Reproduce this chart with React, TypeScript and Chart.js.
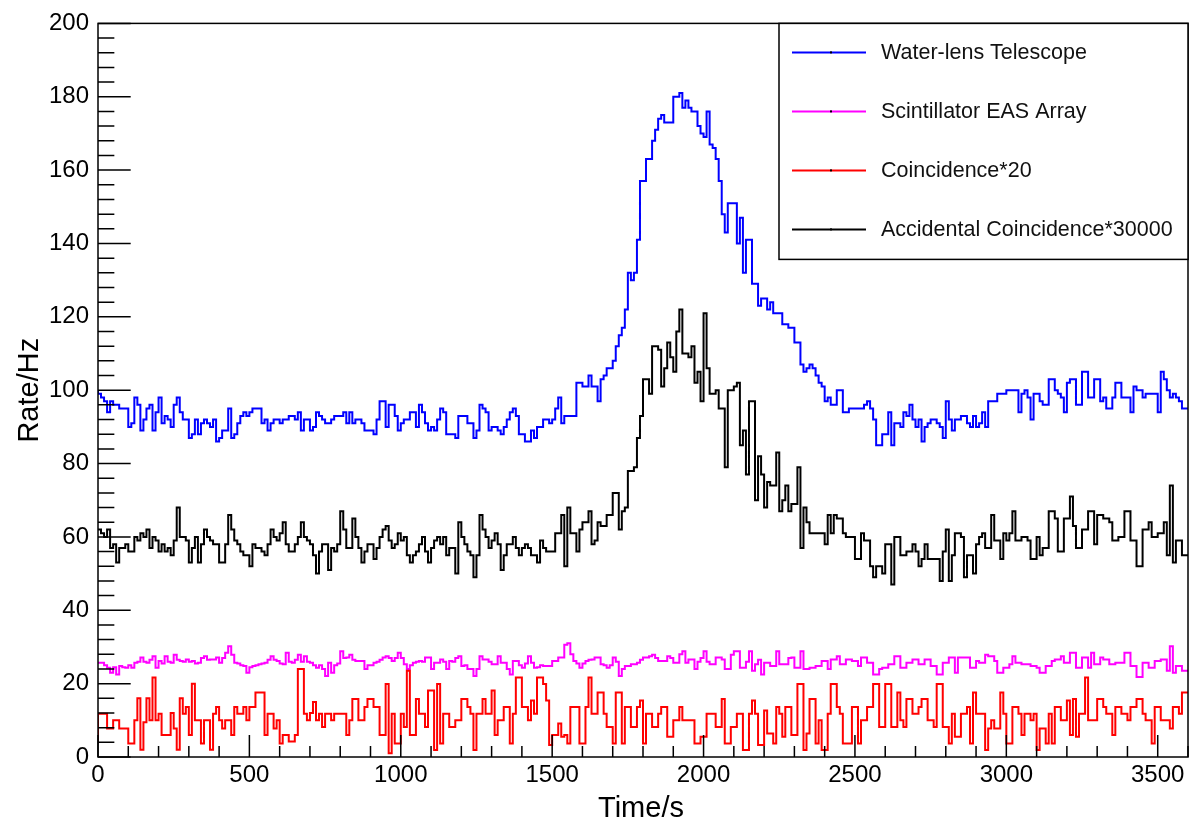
import React, { useEffect, useRef } from 'react';
import { Chart, registerables } from 'chart.js';

Chart.register(...registerables);

// ---- axis definition ----
const BIN_WIDTH = 10; // seconds per histogram bin
const X_MIN = 0;
const X_MAX = 3600;
const X_MAJOR = 500;
const X_MINOR = 100;
const Y_MIN = 0;
const Y_MAX = 200;
const Y_MAJOR = 20;
const Y_MINOR = 4;

const X_TICK_LABELS = [0, 500, 1000, 1500, 2000, 2500, 3000, 3500];
const Y_TICK_LABELS = [0, 20, 40, 60, 80, 100, 120, 140, 160, 180, 200];

const X_TITLE = 'Time/s';
const Y_TITLE = 'Rate/Hz';

// ---- series (one value per 10 s bin, 360 bins) ----
const waterLens = [
  100, 99, 98, 97, 94, 97, 96, 96, 95, 95,
  95, 90, 91, 98, 96, 89, 92, 95, 96, 89,
  94, 98, 91, 93, 92, 90, 96, 98, 94, 92,
  92, 87, 88, 92, 88, 91, 92, 91, 90, 92,
  86, 87, 89, 89, 95, 87, 88, 91, 93, 94,
  93, 94, 95, 95, 95, 91, 92, 89, 91, 92,
  92, 91, 92, 92, 93, 93, 92, 94, 89, 92,
  92, 89, 90, 94, 93, 92, 91, 91, 92, 93,
  93, 93, 94, 91, 94, 91, 92, 92, 91, 89,
  89, 89, 88, 92, 97, 97, 90, 96, 96, 93,
  89, 91, 92, 92, 94, 94, 90, 96, 94, 91,
  89, 90, 89, 92, 95, 94, 88, 88, 88, 87,
  93, 93, 93, 91, 91, 87, 89, 96, 95, 94,
  89, 90, 90, 89, 88, 90, 92, 94, 95, 93,
  88, 88, 86, 86, 89, 87, 90, 90, 92, 92,
  91, 92, 95, 98, 91, 93, 93, 93, 93, 102,
  102, 101, 101, 104, 101, 101, 97, 103, 104, 106,
  106, 108, 112, 115, 117, 122, 132, 130, 132, 141,
  157, 157, 163, 163, 168, 171, 174, 175, 173, 173,
  173, 180, 180, 181, 177, 179, 177, 176, 176, 172,
  170, 169, 176, 167, 166, 163, 157, 148, 143, 151,
  151, 151, 140, 147, 132, 141, 141, 129, 129, 123,
  125, 125, 122, 124, 121, 121, 121, 118, 118, 117,
  117, 113, 113, 107, 105, 106, 107, 106, 104, 102,
  101, 97, 98, 96, 96, 100, 100, 94, 94, 95,
  95, 95, 95, 95, 96, 97, 95, 92, 85, 85,
  88, 88, 94, 85, 91, 91, 90, 94, 93, 96,
  92, 90, 92, 86, 90, 91, 92, 92, 91, 90,
  87, 97, 92, 89, 92, 92, 93, 93, 91, 90,
  93, 90, 91, 94, 90, 97, 97, 97, 99, 99,
  99, 100, 100, 100, 100, 94, 99, 100, 98, 92,
  99, 99, 97, 96, 96, 103, 103, 100, 99, 98,
  94, 102, 103, 103, 96, 96, 105, 105, 98, 98,
  103, 103, 97, 98, 95, 95, 98, 102, 102, 98,
  98, 98, 94, 101, 100, 100, 98, 99, 99, 99,
  99, 94, 105, 103, 100, 98, 99, 98, 97, 95,
];

const scintillator = [
  25.7, 25.7, 25.7, 25, 24.3, 23, 24.5, 22.5, 24.8, 24.5,
  24.3, 25, 24.3, 25.7, 26, 27.1, 26, 25.7, 26.5, 27.5,
  24.3, 26.2, 25.5, 27.5, 26, 25.7, 27.9, 26.5, 26.2, 26,
  26.6, 26, 26.2, 25.5, 25.7, 27, 27.5, 26.5, 26.6, 26.6,
  27.1, 25.7, 27, 28.4, 30.2, 27.9, 25.7, 25.5, 25, 24.8,
  23, 24.5, 24.8, 25, 25.3, 25.5, 25.7, 26.5, 27.5, 26.5,
  26.2, 25.5, 25.3, 28.4, 26, 25.7, 26.5, 27.9, 26, 27.5,
  26, 25.7, 25, 24.3, 25, 24, 22.1, 25.7, 23, 25,
  25.5, 28.8, 27, 27.1, 27.9, 26.5, 26.2, 26.2, 26.2, 24,
  25, 25, 25.7, 26, 26.5, 27.1, 27.5, 27, 26.2, 27,
  28.4, 27, 25.3, 24, 25, 25.7, 26, 26.2, 26, 27.1,
  27.1, 24, 25.7, 25.7, 26.6, 26, 24, 26.2, 26, 27,
  27.5, 24.8, 25, 24, 24, 22.1, 24, 27.5, 26.6, 26.6,
  26, 25.3, 25.3, 27.5, 25.7, 25.7, 24, 22.5, 26.2, 26.2,
  25, 24.3, 25.5, 27.5, 25.7, 24.3, 24.5, 25, 24.8, 24.8,
  24.8, 26.2, 26.2, 27.1, 27.1, 30.6, 31, 28, 26.2, 25.5,
  24.3, 25.5, 26.2, 26.5, 26.6, 27.1, 27.1, 25.3, 25, 24.3,
  25, 27.1, 26, 22.1, 24, 24.8, 24.8, 25.3, 25.3, 25.7,
  26.5, 27.1, 27.1, 27.5, 27.9, 27, 26.2, 26.2, 26.2, 27.5,
  27, 25.7, 25.7, 28, 28.8, 25.7, 26.6, 26.6, 24, 26,
  27, 28.8, 26, 25.3, 25.3, 27.1, 27.1, 26.6, 24, 24,
  27.9, 28.8, 28.8, 24.3, 24.3, 26, 28.8, 23.5, 25.3, 26.5,
  22.5, 25.7, 25.7, 24.8, 24.8, 28.8, 25.3, 25.3, 25.3, 27,
  27.1, 24.3, 24.3, 28.8, 24, 24, 24.3, 24.3, 24.8, 24.8,
  26.2, 26.2, 24, 26.6, 26.6, 27.5, 25.3, 25.3, 26.6, 26.6,
  26.2, 26.2, 24.8, 27.1, 27.1, 25.7, 25.7, 22.5, 22.5, 24,
  24.3, 24.3, 25.3, 25.3, 27.5, 27.5, 24.3, 24.3, 25.7, 25.7,
  26.6, 26.6, 25.3, 25.3, 26.6, 26.6, 24.8, 24.8, 22.5, 22.5,
  25.7, 25.7, 27.1, 27.1, 23, 27.1, 27.1, 27.1, 27.1, 24.3,
  24.3, 26.2, 25.7, 25.7, 27.9, 27.5, 27.5, 26.2, 23, 23,
  24.3, 24.3, 25.3, 27.5, 25.7, 25.7, 25.3, 25.3, 25.3, 24.8,
  24.8, 24.3, 23, 23, 24.8, 24.8, 26.2, 26.6, 26.6, 27.5,
  25.7, 25.7, 28.4, 28.4, 24.3, 24.3, 27.1, 27.1, 24.3, 28.4,
  25.3, 25.3, 27.1, 26.6, 26.6, 25.3, 25.3, 25.7, 25.7, 25.7,
  28.4, 28.4, 24.8, 24.8, 21.8, 21.8, 25.7, 25.7, 24.3, 24.3,
  26.2, 26.2, 26.6, 26.6, 23.5, 30.2, 23, 24.8, 24.8, 23.5,
];

const coincidence = [
  3.7, 11.8, 11.8, 11.8, 7.8, 7.8, 10, 10, 7.8, 7.8,
  7.8, 3.7, 3.7, 10, 16, 2, 9.5, 16, 10, 21.7,
  10, 11.8, 6, 6, 6, 12, 7.8, 2, 16, 11.8,
  13.6, 6, 20, 10, 10, 3.7, 10, 10, 2, 11.8,
  13.6, 10, 7.8, 10, 10, 6, 13.6, 11.8, 11.8, 13.6,
  10, 13.6, 13.6, 17.6, 17.6, 17.6, 6, 11.8, 11.8, 7.8,
  10, 3.7, 6, 6, 4.2, 4.2, 6, 24, 24, 11.8,
  10, 12, 15, 10, 11.8, 8.2, 11.8, 11.8, 10, 11.8,
  11.8, 11.8, 11.8, 6, 10, 15.8, 15.8, 10, 10, 13.6,
  15.8, 15.8, 13.6, 13.6, 6, 6, 19.9, 1, 11.8, 3.7,
  3.7, 11.8, 8.2, 23.5, 6, 6, 15.8, 11.8, 11.8, 8.2,
  18.1, 18.1, 1.9, 19.9, 3.7, 11.8, 11.8, 8.2, 8.2, 10,
  10, 15.8, 15.8, 13.6, 11.8, 1.9, 11.8, 11.8, 15.8, 11.8,
  11.8, 18.1, 6, 10, 10, 13.6, 13.6, 3.7, 11.8, 21.7,
  21.7, 13.6, 13.6, 10, 15.4, 11.8, 21.7, 21.7, 19.9, 15.4,
  3.3, 6, 6, 9.1, 5.5, 6, 3.7, 13.6, 13.6, 13.6,
  3.7, 3.7, 13.6, 21.7, 11.8, 11.8, 17.6, 17.6, 11.8, 8.2,
  8.2, 3.7, 17.6, 17.6, 3.7, 13.6, 13.6, 8.2, 8.2, 13.6,
  15.4, 3.7, 11.8, 11.8, 8.2, 8.2, 11.8, 13.6, 13.6, 5.5,
  5.5, 10, 10, 13.6, 10, 10, 10, 10, 3.7, 3.7,
  5.5, 5.5, 11.8, 11.8, 11.8, 8.2, 8.2, 15.8, 3.7, 3.7,
  8.2, 8.2, 11.8, 11.8, 1.9, 1.9, 11.8, 15.4, 11.8, 3.3,
  3.3, 12.7, 6.4, 6.4, 3.7, 13.6, 11.8, 5.5, 13.6, 13.6,
  6, 6, 19.9, 19.9, 1.9, 6.4, 15.8, 15.8, 3.7, 10,
  1.9, 1.9, 11.8, 19.9, 19.9, 13.6, 11.8, 3.7, 3.7, 3.7,
  13.6, 13.6, 3.7, 10, 10, 13.6, 13.6, 19.9, 19.9, 8.2,
  8.2, 19.9, 19.9, 8.2, 8.2, 17.6, 10, 8.2, 15.8, 15.8,
  11.8, 11.8, 13.6, 15.8, 15.8, 10, 10, 8.2, 19.9, 19.9,
  8.2, 8.2, 3.7, 11.8, 5.5, 5.5, 11.8, 11.8, 13.6, 3.7,
  17.6, 11.8, 11.8, 11.8, 1.9, 7.8, 10, 7.8, 7.8, 17.6,
  11.8, 3.7, 3.7, 13.6, 13.6, 11.8, 6, 11.8, 11.8, 10,
  11.8, 1.9, 7.8, 7.8, 3.7, 11.8, 3.7, 13.6, 13.6, 10,
  10, 15.4, 6, 15.8, 5.5, 11.8, 11.8, 21.7, 10, 10,
  10, 15.8, 15.8, 13.6, 11.8, 11.8, 6, 13.6, 13.6, 11.8,
  11.8, 10, 13.6, 13.6, 15.8, 15.8, 11.8, 10, 10, 3.7,
  13.6, 13.6, 10, 10, 10, 7.8, 13.6, 13.6, 11.8, 17.6,
];

const accidental = [
  62, 62, 61, 60, 62, 57, 58, 53, 57, 57,
  58, 56, 56, 60, 59, 61, 60, 62, 57, 60,
  59, 56, 58, 56, 57, 55, 59, 68, 60, 60,
  59, 53, 57, 60, 53, 58, 62, 60, 59, 58,
  58, 53, 53, 58, 66, 62, 59, 58, 56, 55,
  55, 52, 58, 57, 57, 56, 55, 58, 62, 60,
  59, 61, 64, 58, 56, 56, 58, 60, 64, 60,
  59, 58, 55, 50, 56, 58, 58, 51, 57, 56,
  58, 67, 62, 57, 57, 65, 60, 57, 53, 56,
  58, 58, 54, 57, 60, 62, 63, 59, 57, 58,
  61, 59, 60, 55, 53, 55, 56, 58, 60, 56,
  53, 57, 59, 60, 58, 60, 55, 57, 57, 50,
  64, 60, 58, 56, 55, 49, 55, 66, 62, 60,
  57, 59, 61, 58, 51, 55, 58, 58, 60, 57,
  55, 57, 58, 57, 55, 55, 53, 59, 57, 56,
  56, 56, 61, 61, 66, 52, 68, 61, 61, 56,
  62, 64, 64, 67, 58, 59, 64, 63, 63, 66,
  66, 72, 72, 62, 67, 68, 78, 78, 79, 87,
  93, 103, 103, 99, 112, 112, 111, 101, 106, 113,
  109, 105, 116, 122, 110, 110, 109, 112, 102, 105,
  97, 121, 106, 99, 99, 100, 95, 95, 79, 100,
  100, 101, 102, 85, 89, 77, 97, 97, 70, 82,
  77, 68, 75, 74, 74, 83, 67, 70, 74, 67,
  69, 69, 79, 57, 68, 64, 61, 61, 61, 61,
  61, 58, 66, 61, 66, 65, 65, 61, 60, 60,
  60, 54, 54, 61, 59, 59, 52, 49, 52, 52,
  50, 58, 58, 47, 60, 60, 55, 55, 56, 56,
  58, 56, 52, 54, 58, 54, 54, 54, 54, 48,
  56, 62, 48, 55, 61, 61, 60, 49, 55, 55,
  50, 58, 60, 61, 57, 57, 66, 59, 59, 54,
  61, 59, 61, 67, 59, 59, 60, 60, 59, 54,
  54, 60, 55, 57, 57, 67, 67, 65, 56, 56,
  65, 65, 71, 63, 57, 57, 62, 62, 67, 67,
  58, 66, 66, 65, 65, 64, 59, 59, 60, 60,
  67, 67, 59, 59, 52, 52, 62, 62, 64, 60,
  60, 61, 61, 64, 55, 74, 53, 59, 59, 55,
];

const seriesNames = [
  'Water-lens Telescope',
  'Scintillator EAS Array',
  'Coincidence*20',
  'Accidental Coincidence*30000',
];
const seriesColors = ['#0000ff', '#ff00ff', '#ff0000', '#000000'];
const seriesValues = [waterLens, scintillator, coincidence, accidental];
// lower order is drawn on top (black over red over magenta over blue)
const seriesOrder = [3, 2, 1, 0];

const FONT = '"Liberation Sans", Arial, Helvetica, sans-serif';

function toSteps(values: number[]) {
  const pts = values.map((v, i) => ({ x: X_MIN + i * BIN_WIDTH, y: v }));
  pts.push({ x: X_MIN + values.length * BIN_WIDTH, y: values[values.length - 1] });
  return pts;
}

const rootFramePlugin = {
  id: 'rootFrame',
  afterDatasetsDraw(chart: any) {
    const { ctx, chartArea: a, scales } = chart;
    const xs = scales.x;
    const ys = scales.y;
    ctx.save();
    ctx.strokeStyle = '#000';
    ctx.lineWidth = 1.5;
    ctx.strokeRect(a.left, a.top, a.right - a.left, a.bottom - a.top);

    const w = a.right - a.left;
    const h = a.bottom - a.top;
    ctx.lineWidth = 1.5;
    ctx.beginPath();
    // y ticks (inside, from left axis)
    const nY = Math.round((Y_MAX - Y_MIN) / Y_MINOR);
    for (let i = 0; i <= nY; i++) {
      const v = Y_MIN + i * Y_MINOR;
      const y = ys.getPixelForValue(v);
      const major = Math.abs(v % Y_MAJOR) < 1e-9;
      const len = major ? 0.03 * w : 0.015 * w;
      ctx.moveTo(a.left, y);
      ctx.lineTo(a.left + len, y);
    }
    // x ticks (inside, from bottom axis)
    const nX = Math.floor((X_MAX - X_MIN) / X_MINOR);
    for (let i = 0; i <= nX; i++) {
      const v = X_MIN + i * X_MINOR;
      const x = xs.getPixelForValue(v);
      const major = Math.abs(v % X_MAJOR) < 1e-9;
      const len = major ? 0.03 * h : 0.015 * h;
      ctx.moveTo(x, a.bottom);
      ctx.lineTo(x, a.bottom - len);
    }
    ctx.stroke();

    // axis titles
    ctx.fillStyle = '#000';
    ctx.font = `29px ${FONT}`;
    ctx.textAlign = 'center';
    ctx.textBaseline = 'middle';
    ctx.fillText(X_TITLE, (a.left + a.right) / 2 - 2, a.bottom + 52);
    ctx.save();
    ctx.translate(a.left - 68, (a.top + a.bottom) / 2);
    ctx.rotate(-Math.PI / 2);
    ctx.fillText(Y_TITLE, 0, 0);
    ctx.restore();

    // legend box (top-right, ROOT TLegend style)
    const bw = 409;
    const bh = 236;
    const bx = a.right - bw;
    const by = a.top;
    ctx.fillStyle = '#fff';
    ctx.fillRect(bx, by, bw, bh);
    ctx.strokeStyle = '#000';
    ctx.lineWidth = 1.5;
    ctx.strokeRect(bx, by, bw, bh);
    const rowH = bh / seriesNames.length;
    ctx.font = `21.5px ${FONT}`;
    ctx.textAlign = 'left';
    seriesNames.forEach((name, i) => {
      const cy = by + rowH * (i + 0.5) - 0.5;
      ctx.strokeStyle = seriesColors[i];
      ctx.lineWidth = 2;
      ctx.beginPath();
      ctx.moveTo(bx + 13, cy);
      ctx.lineTo(bx + 87, cy);
      ctx.stroke();
      ctx.fillStyle = '#000';
      ctx.fillRect(bx + 51, cy - 1, 2, 2);
      ctx.fillStyle = '#111';
      ctx.fillText(name, bx + 102, cy + 1);
    });
    ctx.restore();
  },
};

export default function App() {
  const canvasRef = useRef<HTMLCanvasElement | null>(null);

  useEffect(() => {
    const canvas = canvasRef.current;
    if (!canvas) return;
    const chart = new Chart(canvas, {
      type: 'line',
      data: {
        datasets: seriesValues.map((vals, i) => ({
          label: seriesNames[i],
          data: toSteps(vals),
          borderColor: seriesColors[i],
          backgroundColor: seriesColors[i],
          borderWidth: 2,
          pointRadius: 0,
          stepped: 'after' as const,
          fill: false,
          tension: 0,
          order: seriesOrder[i],
        })),
      },
      options: {
        responsive: false,
        animation: false,
        devicePixelRatio: 1,
        layout: { padding: { top: 17, right: 4, left: 0, bottom: 0 } },
        plugins: {
          legend: { display: false },
          tooltip: { enabled: false },
          title: { display: false },
        },
        scales: {
          x: {
            type: 'linear',
            min: X_MIN,
            max: X_MAX,
            grid: { display: false, drawTicks: false },
            border: { display: false },
            afterBuildTicks(scale: any) {
              scale.ticks = X_TICK_LABELS.map((v) => ({ value: v }));
            },
            ticks: {
              autoSkip: false,
              maxRotation: 0,
              minRotation: 0,
              color: '#000',
              padding: 4,
              font: { family: FONT, size: 24 },
              callback: (v: any) => String(v),
            },
            afterFit(scale: any) {
              scale.height = 72;
            },
          },
          y: {
            type: 'linear',
            min: Y_MIN,
            max: Y_MAX,
            grid: { display: false, drawTicks: false },
            border: { display: false },
            afterBuildTicks(scale: any) {
              scale.ticks = Y_TICK_LABELS.map((v) => ({ value: v }));
            },
            ticks: {
              autoSkip: false,
              color: '#000',
              padding: 9,
              font: { family: FONT, size: 24 },
              callback: (v: any) => String(v),
            },
            afterFit(scale: any) {
              scale.width = 98;
            },
          },
        },
      },
      plugins: [rootFramePlugin],
    });
    return () => chart.destroy();
  }, []);

  return (
    <div style={{ position: 'fixed', left: 0, top: 0, width: 1192, height: 829, background: '#fff' }}>
      <canvas ref={canvasRef} width={1192} height={829} style={{ display: 'block' }} />
    </div>
  );
}
